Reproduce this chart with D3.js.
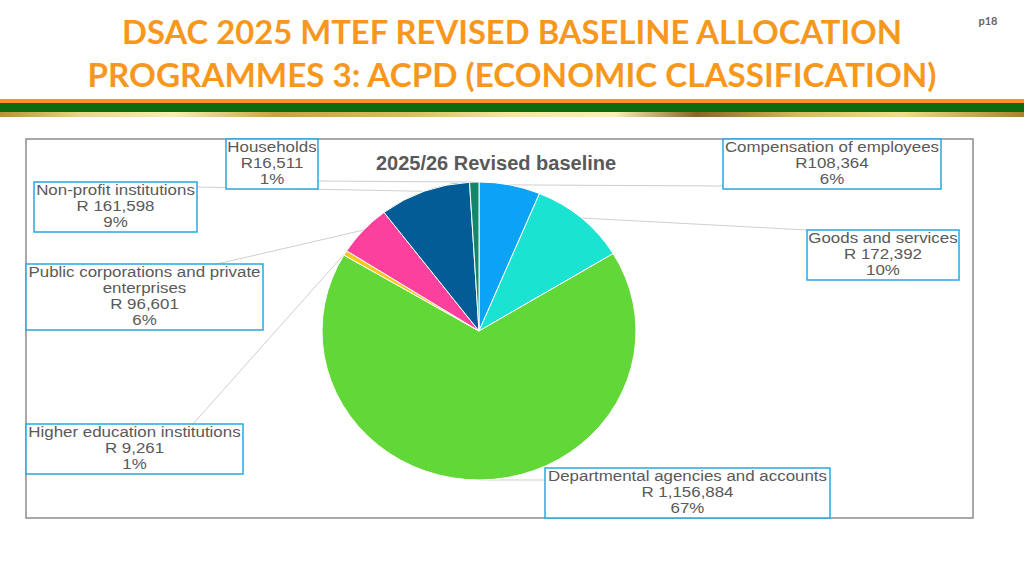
<!DOCTYPE html>
<html>
<head>
<meta charset="utf-8">
<script src="https://cdn.jsdelivr.net/npm/d3@7/dist/d3.min.js"></script>
<style>
  html, body { margin: 0; padding: 0; background: #fff; }
  svg { display: block; }
</style>
</head>
<body>
<svg id="chart" width="1024" height="576"></svg>
<script>
// ---- Data ----
const categories = [
  "Compensation of employees",
  "Goods and services",
  "Departmental agencies and accounts",
  "Higher education institutions",
  "Public corporations and private enterprises",
  "Non-profit institutions",
  "Households"
];
const values = [108364, 172392, 1156884, 9261, 96601, 161598, 16511];
const valueLabels = ["R108,364", "R 172,392", "R 1,156,884", "R 9,261", "R 96,601", "R 161,598", "R16,511"];
const percentLabels = ["6%", "10%", "67%", "1%", "6%", "9%", "1%"];
const colors = ["#0aa3f5", "#1ae3d1", "#62d838", "#f6c81c", "#fb409e", "#035c96", "#14876b"];
const titleLines = ["DSAC 2025 MTEF REVISED BASELINE ALLOCATION", "PROGRAMMES 3: ACPD (ECONOMIC CLASSIFICATION)"];
const chartTitle = "2025/26 Revised baseline";

// ---- Layout (positions of label boxes, not data) ----
const labelLayout = [
  { x: 723, y: 139, w: 218, h: 50, lines: ["Compensation of employees"], ax: 723, ay: 186 },
  { x: 807, y: 230, w: 152, h: 50, lines: ["Goods and services"], ax: 807, ay: 230 },
  { x: 545, y: 468, w: 285, h: 50, lines: ["Departmental agencies and accounts"], ax: 545, ay: 480 },
  { x: 26, y: 424, w: 217, h: 50, lines: ["Higher education institutions"], ax: 193, ay: 424 },
  { x: 26, y: 264, w: 237, h: 66, lines: ["Public corporations and private", "enterprises"], ax: 217, ay: 264 },
  { x: 34, y: 182, w: 163, h: 50, lines: ["Non-profit institutions"], ax: 197, ay: 187 },
  { x: 226, y: 139, w: 92, h: 50, lines: ["Households"], ax: 318, ay: 181 }
];

const svg = d3.select("#chart");
const defs = svg.append("defs");

// ---- Header ----
titleLines.forEach((t, i) => {
  svg.append("text")
    .attr("x", 512).attr("y", i === 0 ? 44 : 87)
    .attr("text-anchor", "middle")
    .attr("font-family", "Lato, 'Open Sans', sans-serif")
    .attr("font-weight", 700)
    .attr("font-size", 33)
    .attr("fill", "#f7981d")
    .attr("textLength", i === 0 ? 780 : 849)
    .attr("lengthAdjust", "spacingAndGlyphs")
    .text(t);
});
svg.append("text")
  .attr("x", 988).attr("y", 25)
  .attr("text-anchor", "middle")
  .attr("font-family", "Lato, sans-serif")
  .attr("font-weight", 700)
  .attr("font-size", 11)
  .attr("fill", "#666")
  .text("p18");

const gold = defs.append("linearGradient").attr("id", "gold").attr("x1", "0%").attr("x2", "100%");
[[0, "#b89040"], [0.08, "#e9d58a"], [0.17, "#f7eeb0"], [0.27, "#c9a04c"], [0.4, "#d8bc6a"],
 [0.5, "#f5e6a0"], [0.6, "#f9f0b8"], [0.68, "#8a6424"], [0.78, "#d7b868"], [0.88, "#f0dc90"], [1, "#a88036"]]
  .forEach(([o, c]) => gold.append("stop").attr("offset", o).attr("stop-color", c));
svg.append("rect").attr("x", 0).attr("y", 99).attr("width", 1024).attr("height", 4).attr("fill", "#f7941d");
svg.append("rect").attr("x", 0).attr("y", 103).attr("width", 1024).attr("height", 9).attr("fill", "#0c6b0e");
svg.append("rect").attr("x", 0).attr("y", 112).attr("width", 1024).attr("height", 5).attr("fill", "url(#gold)");

// ---- Chart frame ----
svg.append("rect")
  .attr("x", 26).attr("y", 139).attr("width", 947).attr("height", 379)
  .attr("fill", "#fff").attr("stroke", "#8c8c8c").attr("stroke-width", 1.5);

svg.append("text")
  .attr("x", 496).attr("y", 170)
  .attr("text-anchor", "middle")
  .attr("font-family", "'Liberation Sans', Arial, sans-serif")
  .attr("font-weight", 700)
  .attr("font-size", 20)
  .attr("fill", "#595959")
  .text(chartTitle);

// ---- Pie ----
const cx = 479, cy = 331, r = 157, sy = 149 / 157;
const pie = d3.pie().sort(null).value(d => d)(values);
const arc = d3.arc().innerRadius(0).outerRadius(r);

// leader lines (drawn first, pie covers their inner end)
const lines = svg.append("g");
pie.forEach((p, i) => {
  const mid = (p.startAngle + p.endAngle) / 2;
  const px = cx + r * Math.sin(mid);
  const py = cy - r * sy * Math.cos(mid);
  const L = labelLayout[i];
  lines.append("line")
    .attr("x1", px).attr("y1", py).attr("x2", L.ax).attr("y2", L.ay)
    .attr("stroke", "#cfcfcf").attr("stroke-width", 1);
});

const g = svg.append("g").attr("transform", `translate(${cx},${cy}) scale(1,${sy})`);
g.selectAll("path").data(pie).join("path")
  .attr("d", arc)
  .attr("fill", (d, i) => colors[i])
  .attr("stroke", "#fff")
  .attr("stroke-width", 1)
  .attr("vector-effect", "non-scaling-stroke");

// ---- Labels ----
const lab = svg.append("g")
  .attr("font-family", "'Liberation Sans', Arial, sans-serif")
  .attr("font-size", 15.5)
  .attr("fill", "#595959");
labelLayout.forEach((L, i) => {
  lab.append("rect")
    .attr("x", L.x).attr("y", L.y).attr("width", L.w).attr("height", L.h)
    .attr("fill", "#fff").attr("stroke", "#2aa6e2").attr("stroke-width", 1.5);
  const textLines = [...L.lines, valueLabels[i], percentLabels[i]];
  textLines.forEach((t, k) => {
    const el = lab.append("text")
      .attr("x", L.x + L.w / 2).attr("y", L.y + 13 + k * 16)
      .attr("text-anchor", "middle")
      .text(t);
    const w = el.node().getComputedTextLength();
    el.attr("textLength", w * 1.09).attr("lengthAdjust", "spacingAndGlyphs");
  });
});
</script>
</body>
</html>
